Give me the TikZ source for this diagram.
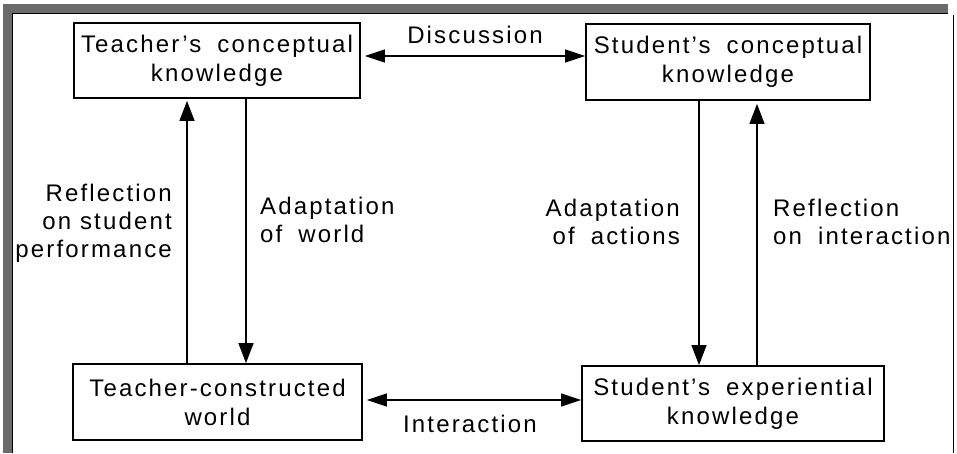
\documentclass[tikz,border=0pt]{standalone}
\usepackage{fontspec}
\setmainfont{Liberation Sans}[LetterSpace=9]
\usetikzlibrary{arrows.meta}
\newcommand{\wsp}{\hspace{16pt}}
\begin{document}
\begin{tikzpicture}[x=1pt,y=-1pt,
  box/.style={draw, line width=1.8pt, align=center, inner sep=0pt,
    font=\fontsize{24}{29}\selectfont},
  lbl/.style={inner sep=0pt, font=\fontsize{24}{28}\selectfont},
  head/.style={Triangle[length=20pt,width=14pt]},
  arr/.style={line width=1.4pt, -{Triangle[length=20pt,width=15pt]}},
  darr/.style={line width=1.4pt, {Triangle[length=20pt,width=13pt]}-{Triangle[length=20pt,width=13pt]}},
  frame/.style={fill=black!58},
  edge/.style={line width=1pt}]
\useasboundingbox (0,0) rectangle (957,453);
% outer frame
\fill[frame] (3,4) rectangle (12,453);
\fill[frame] (3,4) rectangle (948,13);
\draw[edge] (12,453) -- (12,13) -- (948,13);
\draw[edge] (953,15) -- (953,453);
% boxes
\node[box, minimum width=286pt, minimum height=75pt] (tck) at (217,60.5) {Teacher's\wsp conceptual\\knowledge};
\node[box, minimum width=284pt, minimum height=76pt] (sck) at (728,62) {Student's\wsp conceptual\\knowledge};
\node[box, minimum width=289pt, minimum height=76pt] (tcw) at (217.5,402) {Teacher-constructed\\world};
\node[box, minimum width=302pt, minimum height=75pt] (sek) at (733,403.5) {Student's\wsp experiential\\knowledge};
% connectors
\draw[darr, shorten <=4pt] (tck.east |- 0,56) -- (sck.west |- 0,56);
\draw[darr, shorten <=4pt] (tcw.east |- 0,400) -- (sek.west |- 0,400);
\draw[arr, shorten >=2pt] (tcw.north -| 187,0) -- (tck.south -| 187,0);
\draw[arr] (tck.south -| 246,0) -- (tcw.north -| 246,0);
\draw[arr] (sck.south -| 699,0) -- (sek.north -| 699,0);
\draw[arr, shorten >=3pt] (sek.north -| 757,0) -- (sck.south -| 757,0);
% labels
\node[lbl, anchor=base] (ldis) at (475,43) {Discussion};
\node[lbl, anchor=base] (lint) at (470,432) {Interaction};
\node[lbl, anchor=north east, align=right] (lrsp) at (172,184) {Reflection\\on student\\performance};
\node[lbl, anchor=north west, align=left] (law) at (260,197) {Adaptation\\of\wsp world};
\node[lbl, anchor=north east, align=right] (laa) at (680,199) {Adaptation\\of\wsp actions};
\node[lbl, anchor=north west, align=left] (lri) at (773,199) {Reflection\\on\wsp interaction};
\end{tikzpicture}
\end{document}
